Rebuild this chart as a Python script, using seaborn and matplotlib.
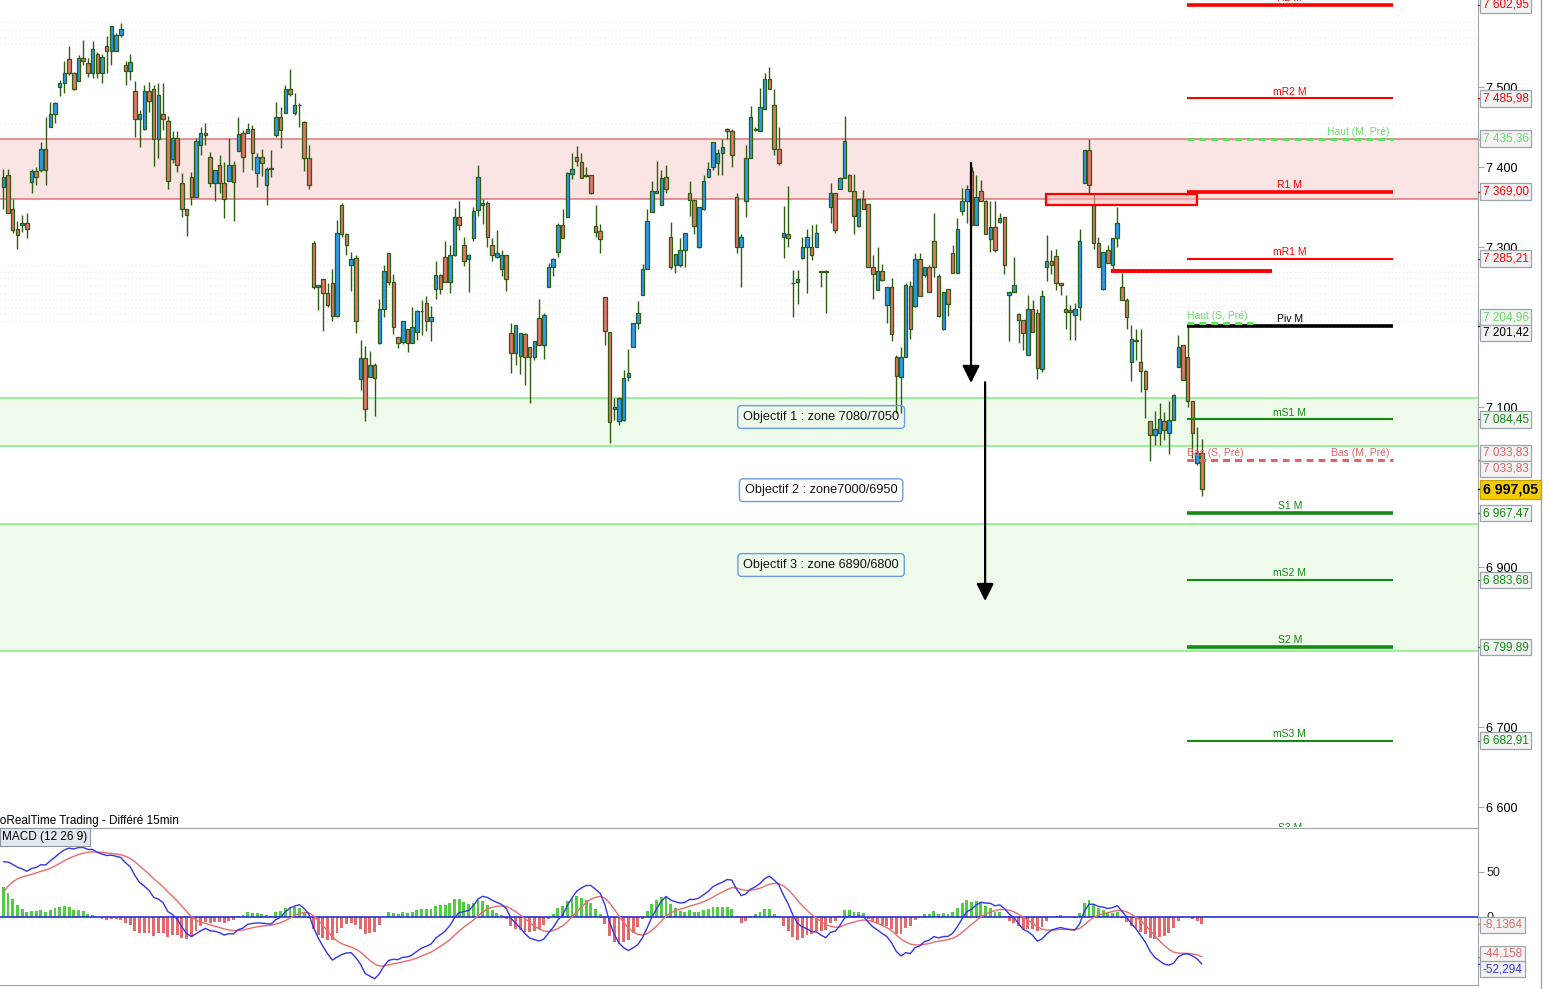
import numpy as np
import pandas as pd
import matplotlib
matplotlib.use("Agg")
import matplotlib.pyplot as plt
import matplotlib.transforms as mtransforms
from matplotlib.patches import Rectangle
from matplotlib.lines import Line2D
from matplotlib.ticker import FuncFormatter, NullFormatter
import seaborn as sns

# ---------------- data ----------------
opens = [
7375,7390,7348,7322,7328,7330,7381,7395,7396,7422,
7450,7466,7500,7505,7535,7517,7507,7536,7530,7517,
7541,7518,7551,7545,7545,7565,7527,7520,7495,7460,
7448,7495,7497,7435,7466,7458,7410,7436,7380,7347,
7387,7363,7427,7443,7413,7380,7402,7380,7382,7402,
7420,7442,7442,7447,7393,7413,7377,7398.5,7440,7462,
7468,7497,7467,7478,7456,7411,7305,7250,7260,7243,
7255,7214,7353,7316,7278,7286,7135,7161,7138,7153,
7180,7222,7293,7256,7188,7181,7197,7180,7194,7219.5,
7230,7207,7248,7265,7288,7256,7290,7338,7303,7285,
7311,7346,7352,7355,7302,7287,7272,7290,7193,7167,
7164,7191,7175,7162,7211,7177,7250,7275,7294,7328,
7338,7391,7413,7406,7390,7390,7326,7320,7238,7194,
7097,7083,7084,7137,7175,7205,7240,7273,7344,7368,
7352,7387,7313,7277,7277,7296,7368,7359,7300,7348,
7388,7400,7405,7418,7448,7445,7362,7300,7357,7411,
7448,7445,7472,7510,7477,7423,7313,7316,7255.5,7256,
7286,7300,7300,7300,7269.5,7269.5,7350,7368,7372,7386,
7390,7370,7326,7360,7354,7275,7246,7270,7227,7250,
7162,7137,7162,7251,7226,7285,7265,7275,7308,7264,
7198,7247,7293,7268,7345,7357,7395,7328,7370,7358,
7310,7325,7331,7337,7240,7244,7216,7209,7165,7222,
7218,7147,7275,7282,7289,7255,7223,7219,7215,7225,
7380,7421,7353,7305,7248,7296,7278,7311,7250,7234,
7156,7184,7156,7145,7082,7065,7068,7083,7068,7084,
7150,7178,7162,7107,7030,7043]

highs = [
7398,7398,7360,7332,7340,7343,7398,7400,7431,7463,
7481,7481,7509,7532,7551,7519,7540,7559,7536,7558,
7544,7541,7564,7576,7568,7580,7532,7541,7508,7471,
7503,7506,7503,7505,7505,7464,7445,7445,7392,7347,
7394,7436,7450,7455,7419,7396,7415,7406,7436,7407,
7463,7446,7455,7453,7417,7422,7400,7421,7481,7475,
7502,7523,7492,7480,7458,7428,7307,7252,7260,7255,
7272,7334,7355,7318,7294,7290,7184,7176,7170,7155,
7235,7278,7293,7266,7188,7207,7198,7225,7221,7234,
7239,7226,7283,7266,7308,7303,7349,7358,7312,7291,
7350,7403,7360,7357,7311,7321,7296,7290,7205,7202,
7192,7192,7175,7183,7235,7217,7280,7286,7330,7348,
7394,7418,7426,7417,7400,7390,7352,7329,7238,7194,
7111,7113,7146,7173,7205,7232,7279,7347,7383,7408,
7396,7402,7331,7291,7311,7318,7383,7359,7350,7390,
7406,7431,7423,7435,7449,7447,7367,7316,7428,7476,
7450,7499,7517,7525,7498,7450,7351,7376,7271,7271,
7313,7323,7328,7329,7270,7271,7380,7368,7387,7464,
7391,7391,7360,7371,7354,7290,7300,7279,7250,7261,
7165,7175,7255,7257,7292,7292,7275,7278,7343,7266,
7244,7248,7303,7336,7374,7378,7400,7390,7384,7359,
7357,7358,7342,7337,7244,7288,7218,7209,7240,7234,
7222,7246,7315,7296,7298,7255,7240,7228,7230,7323,
7421,7435,7367,7313,7294,7303,7311,7350,7267,7236,
7203,7198,7198,7146,7082,7095,7105,7094,7107,7116,
7190,7178,7200,7107,7075,7060]

lows = [
7348,7343,7317,7298,7319,7311,7368,7378,7394,7378,
7450,7455,7489,7492,7515,7496,7507,7528,7512,7511,
7511,7505,7517,7527,7545,7563,7503,7509,7438,7425,
7446,7469,7401,7411,7446,7372,7405,7394,7338,7314,
7353,7363,7415,7427,7375,7357,7367,7336,7382,7332,
7420,7394,7442,7396,7375,7389,7353,7388,7437,7424,
7468,7489,7465,7450,7395,7373,7248,7221,7195,7225,
7207,7212,7313,7290,7245,7193,7121,7082,7138,7089,
7179,7212,7253,7191,7174,7179,7169,7180,7184,7190,
7195,7183,7235,7241,7256,7243,7289,7321,7276,7244,
7307,7339,7329,7300,7282,7286,7264,7245,7143,7153,
7141,7127,7105,7159,7177,7160,7250,7264,7287,7311,
7338,7385,7401,7386,7388,7366,7312,7293,7177,7055,
7084,7078,7082,7132,7175,7197,7240,7273,7344,7368,
7352,7368,7273,7267,7275,7275,7339,7316,7299,7346,
7388,7396,7390,7390,7435,7400,7293,7250,7338,7411,
7445,7445,7472,7497,7415,7402,7286,7300,7212,7229,
7285,7243,7284,7300,7250,7217,7330,7318,7372,7386,
7370,7316,7325,7348,7275,7235,7246,7258,7205,7182,
7092,7092,7162,7185,7225,7239,7263,7244,7263,7212,
7196,7214,7267,7268,7340,7330,7328,7328,7357,7316,
7294,7294,7330,7266,7182,7244,7180,7171,7165,7194,
7135,7144,7258,7266,7246,7240,7197,7184,7184,7209,
7380,7367,7298,7275,7246,7280,7273,7300,7234,7197,
7132,7159,7119,7086,7032,7053,7053,7059,7041,7084,
7150,7134,7100,7036,7028,6989]

closes = [
7388,7343,7321,7315,7330,7323,7395,7388,7422,7396,
7466,7480,7505,7518,7517,7497,7536,7533,7517,7548,
7518,7537,7545,7576,7565,7572,7520,7531,7460,7466,
7495,7482,7435,7490,7460,7382,7436,7402,7347,7340,
7363,7433,7443,7440,7380,7396,7380,7360,7402,7381,
7441,7413,7447,7417,7413,7405,7398,7398,7462,7446,
7497,7491,7478,7477,7411,7377,7250,7252,7243,7228,
7214,7318,7316,7302,7285,7208,7161,7097,7153,7136,
7222,7270,7256,7200,7180,7207,7180,7200,7220,7220.5,
7207,7212,7265,7248,7256,7290,7338,7327,7283,7290,
7345,7387,7355,7312,7290,7293,7290,7260,7167,7202,
7192,7162,7162,7183,7177,7215,7275,7285,7328,7311,
7392,7398,7407,7386,7389,7368,7319,7310,7195,7081,
7100,7111,7136,7142,7205,7218,7273,7332,7370,7370,
7386,7373,7275,7291,7296,7318,7359,7326,7350,7383,
7398,7431,7418,7425,7445,7415,7300,7313,7411,7463,
7446,7475,7510,7497,7423,7405,7317,7311,7255,7260,
7300,7313,7290,7318,7269,7269,7368,7321,7386,7432,
7370,7339,7360,7348,7275,7266,7270,7259,7250,7191,
7139,7162,7252,7197,7285,7239,7275,7244,7275,7214,
7244,7229,7268,7323,7358,7372,7328,7363,7357,7316,
7325,7296,7336,7278,7244,7253,7209,7192,7222,7194,
7149,7239,7282,7278,7255,7253,7219,7221,7223,7308,
7421,7378,7305,7275,7294,7280,7311,7330,7234,7212,
7185,7183,7145,7122,7065,7072,7085,7071,7084,7115,
7175,7134,7108,7067,7043,6997]

# monthly pivot levels
level_names = ["R2 M", "mR2 M", "R1 M", "mR1 M", "Piv M", "mS1 M",
               "S1 M", "mS2 M", "S2 M", "mS3 M", "S3 M"]
level_values = [7602.95, 7485.98, 7369.00, 7285.21, 7201.42, 7084.45,
                6967.47, 6883.68, 6799.89, 6682.91, 6565.95]
# previous highs / lows
prev_names = ["Haut (M, Pré)", "Haut (S, Pré)", "Bas (S, Pré)", "Bas (M, Pré)"]
prev_values = [7435.36, 7204.96, 7033.83, 7033.83]

zone_resist = [7360.0, 7435.36]
zone_obj1 = [7051.0, 7111.0]
zone_obj23 = [6795.0, 6954.0]
faint_levels = [7581, 7571, 7563, 7554, 7455, 7277.5, 7269, 7261, 7252,
                7243, 7234, 7225, 7216, 7207]

drawn_line_value = 7270.4
drawn_box_values = [7352.5, 7365.9]

objective_texts = ["Objectif 1 : zone 7080/7050",
                   "Objectif 2 : zone7000/6950",
                   "Objectif 3 : zone 6890/6800"]
objective_prices = [7087.5, 6996.0, 6902.5]

arrow1_prices = [7405, 7130]
arrow2_prices = [7131, 6857.5]

last_price = 6997.05
price_ticks = [6600, 6700, 6900, 7100, 7300, 7400, 7500]

# MACD (12 26 9) computed from the closes; starting state
macd_fast, macd_slow, macd_sig = 12, 26, 9
ema_fast_start, ema_slow_start, signal_start = 7270.0, 7214.0, 19.0
macd_tag_values = [-8.1364, -44.158, -52.294]
macd_tag_texts = ["-8,1364", "-44,158", "-52,294"]

# ---------------- computations ----------------
o = np.array(opens, float); h = np.array(highs, float)
l = np.array(lows, float); c = np.array(closes, float)
n = len(c)
assert len(o) == len(h) == len(l) == n, (len(o), len(h), len(l), n)
idx = np.arange(n)


def ema(vals, span, start):
    a = 2.0 / (span + 1)
    out = np.empty(len(vals)); e = start
    for i, v in enumerate(vals):
        e = e + a * (v - e)
        out[i] = e
    return out


macd = ema(c, macd_fast, ema_fast_start) - ema(c, macd_slow, ema_slow_start)
signal = ema(macd, macd_sig, signal_start)
hist = macd - signal
df = pd.DataFrame({"i": idx, "macd": macd, "signal": signal, "hist": hist})

# ---------------- style ----------------
sns.set_style("white")
plt.rcParams['font.family'] = ['Liberation Sans', 'DejaVu Sans']
plt.rcParams['axes.unicode_minus'] = False

UP = "#2b9af3"; DOWN = "#e5736a"; EDGE = "#2e5d12"
RED = "#ff0000"; GREEN = "#138a13"; LGREEN = "#66dd66"; SALMON = "#e06464"
GRAY = "#a0a4a8"

W, H = 1546, 989
fig = plt.figure(figsize=(W / 100, H / 100), dpi=100)
AXR = 1478
ax = fig.add_axes([0, 1 - 827 / H, AXR / W, 827 / H])
axm = fig.add_axes([0, 1 - 985 / H, AXR / W, 157 / H])

XMIN = -3.3 / 4.7
XMAX = XMIN + AXR / 4.7
for a in (ax, axm):
    a.set_xlim(XMIN, XMAX)
    a.set_facecolor("white")
ax.set_ylim(6575, 7608.75)
axm.set_ylim(-75.6, 98.9)

# zones
ax.axhspan(*zone_resist, color="#fae4e4", zorder=0, lw=0)
ax.axhspan(*zone_obj1, color="#eefaea", zorder=0, lw=0)
ax.axhspan(*zone_obj23, color="#eefaea", zorder=0, lw=0)
for v in zone_resist:
    ax.axhline(v, color="#e07474", lw=1.1, zorder=1)
for v in zone_obj1 + zone_obj23:
    ax.axhline(v, color="#80ee80", lw=1.1, zorder=1)
for v in faint_levels:
    ax.axhline(v, color="#e6ebf0", lw=0.9, ls=(0, (1, 2)), zorder=0.5)

# candles
ax.vlines(idx, l, h, color=EDGE, lw=1.0, zorder=3)
body_bottom = np.minimum(o, c)
body_h = np.maximum(np.abs(c - o), 0.5)
colors = np.where(c >= o, UP, DOWN)
ax.bar(idx, body_h, bottom=body_bottom, width=0.74, color=colors,
       edgecolor=EDGE, linewidth=0.9, zorder=4)

# pivot levels
last = n - 1
LV0 = last - 3.2
LV1 = LV0 + 206 / 4.7
LVS = LV0 + 66 / 4.7
LVMID = (LV0 + LV1) / 2
level_style = {"R2 M": (RED, 2.6), "mR2 M": (RED, 1.5), "R1 M": (RED, 2.6),
               "mR1 M": (RED, 1.5), "Piv M": ("black", 2.6), "mS1 M": (GREEN, 1.5),
               "S1 M": (GREEN, 2.6), "mS2 M": (GREEN, 1.5), "S2 M": (GREEN, 2.6),
               "mS3 M": (GREEN, 1.5), "S3 M": (GREEN, 2.6)}
for name, val in zip(level_names, level_values):
    col, lw = level_style[name]
    ax.hlines(val, LV0, LV1, color=col, lw=lw, zorder=5)
    ax.annotate(name, xy=(LVMID, val), xytext=(0, 1.2), textcoords="offset points",
                ha="center", va="bottom", fontsize=7.5, color=col, zorder=6,
                annotation_clip=False, clip_on=True)

prev_style = {"Haut (M, Pré)": (LGREEN, LV1, "right"),
              "Haut (S, Pré)": (LGREEN, LVS, "left"),
              "Bas (S, Pré)": (SALMON, LVS, "left"),
              "Bas (M, Pré)": (SALMON, LV1, "right")}
for name, val in zip(prev_names, prev_values):
    col, xend, side = prev_style[name]
    ax.hlines(val, LV0, xend, color=col, lw=2.2, ls=(0, (2.2, 1.7)), zorder=5)
    xt = LV1 - 0.8 if side == "right" else LV0 + 0.1
    ax.annotate(name, xy=(xt, val), xytext=(0, 1.5), textcoords="offset points",
                ha=side, va="bottom", fontsize=7.5, color=col, zorder=6)

# hand-drawn items
ax.hlines(drawn_line_value, LV0 - 16.1, LV0 + 18.1, color=RED, lw=2.8, zorder=5)
ax.add_patch(Rectangle((LV0 - 30.0, drawn_box_values[0]), 32.2,
                       drawn_box_values[1] - drawn_box_values[0],
                       fc=(1, 0.72, 0.72, 0.55), ec=RED, lw=1.6, zorder=6))

ax.annotate("", xy=(205.9, arrow1_prices[1]), xytext=(205.9, arrow1_prices[0]),
            arrowprops=dict(arrowstyle="-|>,head_length=0.7,head_width=0.35",
                            color="black", lw=1.6, shrinkA=0, shrinkB=0,
                            mutation_scale=15), zorder=7)
ax.annotate("", xy=(208.9, arrow2_prices[1]), xytext=(208.9, arrow2_prices[0]),
            arrowprops=dict(arrowstyle="-|>,head_length=0.7,head_width=0.35",
                            color="black", lw=1.6, shrinkA=0, shrinkB=0,
                            mutation_scale=15), zorder=7)

for txt, p in zip(objective_texts, objective_prices):
    ax.text(174.0, p, txt, ha="center", va="center", fontsize=9.2, color="#111111",
            zorder=8, bbox=dict(boxstyle="round,pad=0.42,rounding_size=0.3",
                                fc="none", ec="#6b9be8", lw=1.0))

# price axis
ax.yaxis.tick_right()
ax.set_yticks(price_ticks)
ax.yaxis.set_major_formatter(FuncFormatter(lambda v, p: f"{int(round(v)):,}".replace(",", " ")))
ax.tick_params(axis="y", which="major", length=4, color=GRAY, labelsize=9,
               labelcolor="black", pad=2, direction="out")
ax.tick_params(axis="x", bottom=False, labelbottom=False)
for s in ("top", "left", "bottom"):
    ax.spines[s].set_visible(False)
ax.spines["right"].set_color(GRAY)
ax.grid(False)


def fmt(v):
    return f"{v:,.2f}".replace(",", " ").replace(".", ",")


def price_tag(axis, value, text, color, dy=0.0, fc="#f3f3f3", ec="#9ba3ab",
              bold=False, size=8.5):
    tr = mtransforms.blended_transform_factory(axis.transAxes, axis.transData)
    axis.plot([1.0, 1.0035], [value, value], transform=tr, color=color, lw=1,
              clip_on=False, zorder=9)
    axis.annotate(text, xy=(1.0, value), xycoords=tr, xytext=(3.4, dy),
                  textcoords="offset points", ha="left", va="center",
                  fontsize=size, color=color,
                  fontweight="bold" if bold else "normal",
                  bbox=dict(boxstyle="square,pad=0.2", fc=fc, ec=ec, lw=0.9),
                  annotation_clip=False, zorder=12)


tag_colors = {"R2 M": RED, "mR2 M": RED, "R1 M": RED, "mR1 M": RED,
              "Piv M": "black", "mS1 M": GREEN, "S1 M": GREEN, "mS2 M": GREEN,
              "S2 M": GREEN, "mS3 M": GREEN}
tag_shift = {"Piv M": -5.0}
for name, val in zip(level_names, level_values):
    if name in tag_colors:
        price_tag(ax, val, fmt(val), tag_colors[name], dy=tag_shift.get(name, 0.0))
prev_shift = {"Haut (M, Pré)": 0.0, "Haut (S, Pré)": 4.3, "Bas (S, Pré)": 5.0,
              "Bas (M, Pré)": -6.5}
prev_tag_col = {"Haut (M, Pré)": LGREEN, "Haut (S, Pré)": LGREEN,
                "Bas (S, Pré)": SALMON, "Bas (M, Pré)": SALMON}
for name, val in zip(prev_names, prev_values):
    price_tag(ax, val, fmt(val), prev_tag_col[name], dy=prev_shift[name])
price_tag(ax, last_price, fmt(last_price), "black", fc="#f5cc00", ec="#c9a400",
          bold=True, size=10.2)

# ---------------- MACD panel ----------------
hist_cols = np.where(hist >= 0, "#4fcf3f", "#e36a6a")
axm.bar(idx, hist, width=0.62, color=hist_cols, lw=0, zorder=2)
axm.axhline(0, color="#1c1cd8", lw=1.1, zorder=3)
sns.lineplot(data=df, x="i", y="signal", ax=axm, color="#e86c6c", lw=1.0, zorder=4)
sns.lineplot(data=df, x="i", y="macd", ax=axm, color="#3434ee", lw=1.0, zorder=5)
axm.set_xlabel(""); axm.set_ylabel("")
axm.yaxis.tick_right()
axm.set_yticks([0, 50])
axm.tick_params(axis="y", length=4, color=GRAY, labelsize=9, pad=2)
axm.set_xticks(np.arange(2, 314, 8))
axm.xaxis.set_major_formatter(NullFormatter())
axm.tick_params(axis="x", length=3, color=GRAY, direction="out")
axm.spines["left"].set_visible(False)
for s in ("top", "right", "bottom"):
    axm.spines[s].set_color(GRAY)
axm.grid(False)

tag_cols_m = ["#e36a6a", "#e36a6a", "#3434ee"]
tag_dy_m = [-0.5, 2.0, -3.6]
for v, t, col, dy in zip(macd_tag_values, macd_tag_texts, tag_cols_m, tag_dy_m):
    price_tag(axm, v, t, col, dy=dy)

axm.text(2.5 / AXR, 0.943, "MACD (12 26 9)", transform=axm.transAxes, ha="left",
         va="center", fontsize=8.5, color="black", zorder=10,
         bbox=dict(boxstyle="square,pad=0.22", fc="#e3e8ee", ec="#9098a0", lw=0.8))

fig.text(-11.5 / W, 1 - 821 / H, "ProRealTime Trading - Différé 15min",
         ha="left", va="center", fontsize=8.5, color="black")
fig.add_artist(Line2D([1541 / W, 1541 / W], [0, 1], color=GRAY, lw=1.0))

fig.savefig("out.png", dpi=100, facecolor="white")
